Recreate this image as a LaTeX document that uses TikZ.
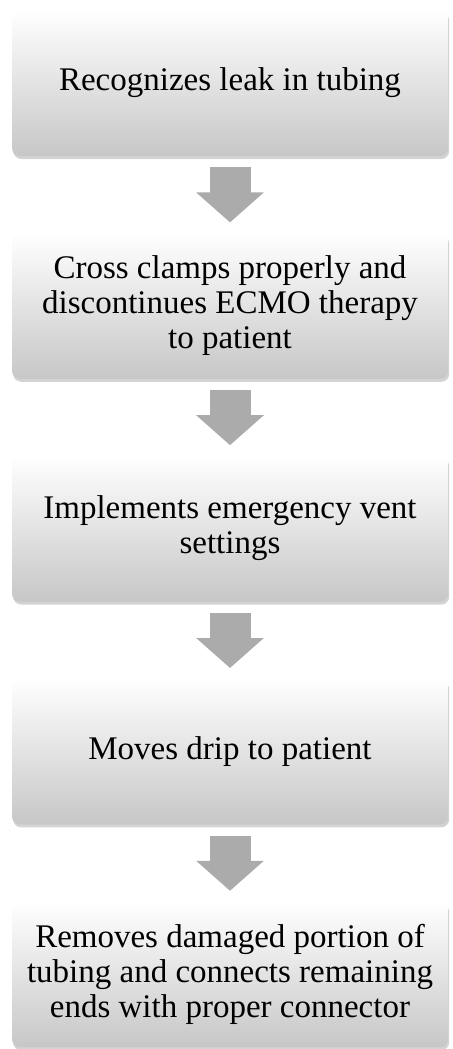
\documentclass[tikz,border=0pt]{standalone}
\usepackage{fontspec}
\setmainfont{Liberation Serif}
\usepackage{tikz}
\usetikzlibrary{positioning,shadows,arrows.meta}

\begin{document}
\begin{tikzpicture}[
  stepbox/.style={rectangle, rounded corners=4pt, minimum width=218pt, minimum height=73pt,
    inner sep=4pt, align=center, top color=white, bottom color=black!22,
    drop shadow={opacity=0.35, shadow xshift=0.6pt, shadow yshift=-1.5pt},
    font=\fontsize{16.5}{17.5}\selectfont},
  blockarrow/.style={draw=black!33, line width=20.5pt,
    -{Triangle[width=33pt,length=15pt]}, shorten <=5.5pt, shorten >=5pt}
]
\useasboundingbox (0,0) rectangle (226pt,-524.5pt);
\node[stepbox] (leak) at (115pt,-41.5pt) {Recognizes leak in tubing};
\node[stepbox, below=38pt of leak] (clamp) {Cross clamps properly and\\discontinues ECMO therapy\\to patient};
\node[stepbox, below=38pt of clamp] (vent) {Implements emergency vent\\settings};
\node[stepbox, below=38pt of vent] (drip) {Moves drip to patient};
\node[stepbox, below=38pt of drip] (tubing) {Removes damaged portion of\\tubing and connects remaining\\ends with proper connector};
\draw[blockarrow] (leak) -- (clamp);
\draw[blockarrow] (clamp) -- (vent);
\draw[blockarrow] (vent) -- (drip);
\draw[blockarrow] (drip) -- (tubing);
\end{tikzpicture}
\end{document}
